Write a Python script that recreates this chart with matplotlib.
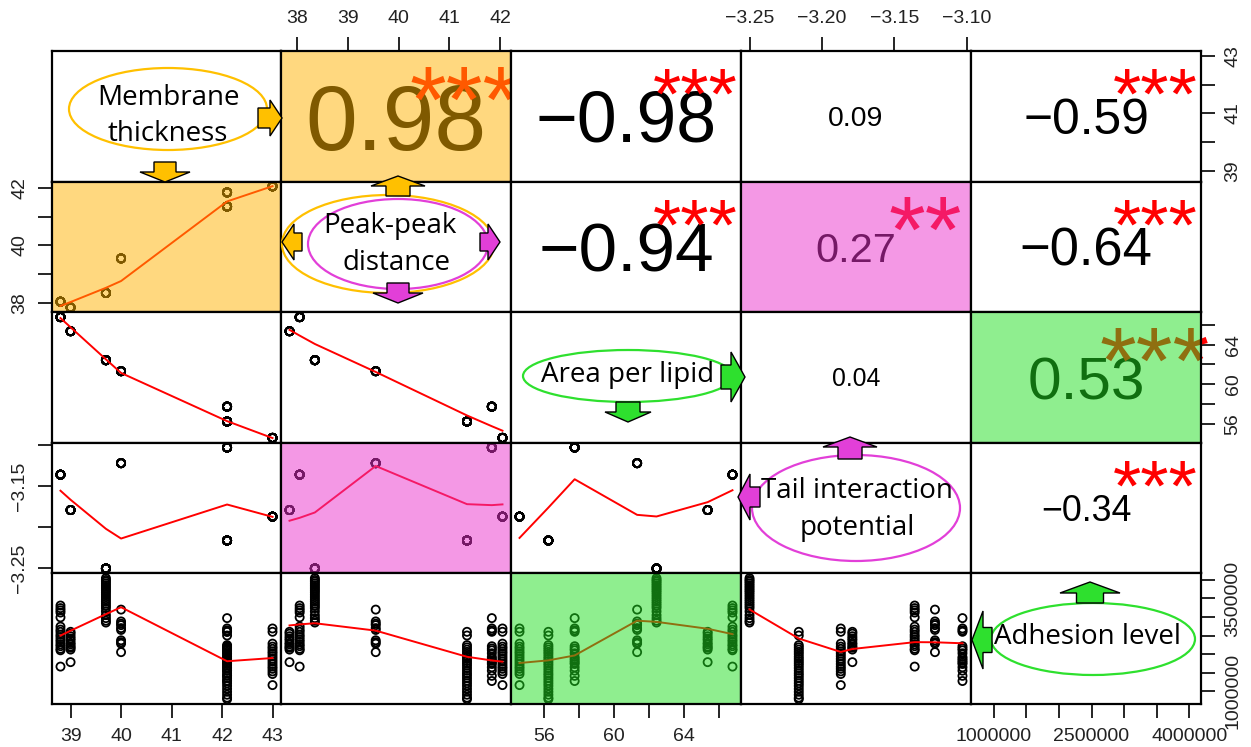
import numpy as np
import matplotlib
matplotlib.use('Agg')
import matplotlib.pyplot as plt
import matplotlib.patches as mpatches

plt.rcParams['font.family'] = 'Liberation Sans'

W, H = 1251, 747

# per-system values (7 lipid systems, A..G)
thickness = [38.8, 39.0, 39.7, 40.0, 42.1, 42.1, 43.0]
peak_dist = [38.05, 37.85, 38.35, 39.55, 41.84, 41.35, 42.05]
area_lipid = [66.77, 65.35, 62.43, 61.32, 57.75, 56.25, 54.60]
tail_pot = [-3.136, -3.179, -3.250, -3.122, -3.103, -3.216, -3.187]

# adhesion level replicates per system (x 1e6)
adh_A = [3.31, 3.24, 3.18, 3.12, 2.99, 2.74, 2.66, 2.60, 2.52, 2.46, 2.39, 2.33, 2.26, 2.21, 2.14, 2.10, 1.66]
adh_B = [2.60, 2.55, 2.48, 2.42, 2.37, 2.30, 2.26, 2.20, 2.17, 2.12, 1.78]
adh_C = [4.05, 4.00, 3.96, 3.91, 3.86, 3.81, 3.76, 3.71, 3.66, 3.60, 3.54, 3.48, 3.42, 3.36, 3.30, 3.24,
         3.15, 3.05, 2.97, 2.90, 2.85]
adh_D = [3.20, 2.88, 2.82, 2.78, 2.70, 2.65, 2.37, 2.32, 2.28, 2.05]
adh_E = [2.97, 2.69, 2.64, 2.60, 2.21, 2.15, 2.10, 2.02, 1.92, 1.87, 1.82, 1.77, 1.73, 1.64, 1.55, 1.41, 1.27]
adh_F = [2.60, 2.50, 2.24, 2.18, 2.12, 2.06, 2.00, 1.93, 1.87, 1.81, 1.75, 1.69, 1.62, 1.55, 1.48, 1.42,
         1.35, 1.28, 1.21, 1.14, 1.06, 0.98, 0.90, 0.82, 0.78]
adh_G = [2.69, 2.60, 2.28, 2.20, 2.14, 2.07, 2.01, 1.94, 1.87, 1.80, 1.73, 1.66, 1.60, 1.53, 1.46, 1.16]

# upper panels: (row, col, correlation, significance)
cor_cells = [(0, 1, '0.98', '***'), (0, 2, '\u22120.98', '***'), (0, 3, '0.09', ''),
             (0, 4, '\u22120.59', '***'), (1, 2, '\u22120.94', '***'), (1, 3, '0.27', '**'),
             (1, 4, '\u22120.64', '***'), (2, 3, '0.04', ''), (2, 4, '0.53', '***'),
             (3, 4, '\u22120.34', '***')]

# highlighted panels
orange_cells = [(0, 1), (1, 0)]
pink_cells = [(1, 3), (3, 1)]
green_cells = [(2, 4), (4, 2)]


def lowess(x, y, f=2/3, nsteps=3):
    # port of R's clowess
    o = np.argsort(x, kind='stable')
    X = np.concatenate([[0.0], np.asarray(x, float)[o]])
    Y = np.concatenate([[0.0], np.asarray(y, float)[o]])
    n = len(X) - 1
    delta = 0.01 * (X[n] - X[1])
    rng = X[n] - X[1]
    ys = np.zeros(n + 1)
    rw = np.ones(n + 1)
    w = np.zeros(n + 1)
    ns = max(2, min(n, int(f * n + 1e-7)))
    it = 1
    while it <= nsteps + 1:
        nleft, nright, last, i = 1, ns, 0, 1
        while True:
            if nright < n:
                d1 = X[i] - X[nleft]
                d2 = X[nright + 1] - X[i]
                if d1 > d2:
                    nleft += 1
                    nright += 1
                    continue
            xv = X[i]
            h = max(xv - X[nleft], X[nright] - xv)
            h9, h1 = 0.999 * h, 0.001 * h
            a = 0.0
            j = nleft
            while j <= n:
                w[j] = 0.0
                r = abs(X[j] - xv)
                if r <= h9:
                    w[j] = 1.0 if r <= h1 else (1 - (r / h) ** 3) ** 3
                    if it > 1:
                        w[j] *= rw[j]
                    a += w[j]
                elif X[j] > xv:
                    break
                j += 1
            nrt = j - 1
            if a <= 0:
                ys[i] = Y[i]
            else:
                ww = w[nleft:nrt + 1] / a
                xx = X[nleft:nrt + 1]
                if h > 0:
                    am = (ww * xx).sum()
                    b = xv - am
                    c = (ww * (xx - am) ** 2).sum()
                    if np.sqrt(c) > 0.001 * rng:
                        ww = ww * (b / c * (xx - am) + 1)
                ys[i] = (ww * Y[nleft:nrt + 1]).sum()
            if last < i - 1:
                denom = X[i] - X[last]
                for k in range(last + 1, i):
                    al = (X[k] - X[last]) / denom
                    ys[k] = al * ys[i] + (1 - al) * ys[last]
            last = i
            cut = X[last] + delta
            i = last + 1
            while i <= n:
                if X[i] > cut:
                    break
                if X[i] == X[last]:
                    ys[i] = ys[last]
                    last = i
                i += 1
            i = max(last + 1, i - 1)
            if last >= n:
                break
        res = Y[1:] - ys[1:]
        sc = np.abs(res).mean()
        if it > nsteps:
            break
        r = np.abs(res)
        cmad = 6 * np.median(r)
        if cmad < 1e-7 * sc:
            break
        rw[1:] = np.where(r <= 0.001 * cmad, 1.0,
                          np.where(r <= 0.999 * cmad, (1 - (r / cmad) ** 2) ** 2, 0.0))
        it += 1
    return X[1:], ys[1:]


adh_groups = [adh_A, adh_B, adh_C, adh_D, adh_E, adh_F, adh_G]
reps = [len(g) for g in adh_groups]
data = [np.repeat(thickness, reps), np.repeat(peak_dist, reps), np.repeat(area_lipid, reps),
        np.repeat(tail_pot, reps), np.concatenate(adh_groups) * 1e6]

lims = []
for v in data:
    lo, hi = v.min(), v.max()
    pad = 0.04 * (hi - lo)
    lims.append((lo - pad, hi + pad))

cols = [52, 281, 511, 741, 971, 1201]
rows = [51, 181.5, 312.3, 442.7, 573.3, 704]

fig = plt.figure(figsize=(W / 100, H / 100), dpi=100)
renderer = fig.canvas.get_renderer()


def fx(px):
    return px / W


def fy(py):
    return 1 - py / H


def str_width(s, size):
    t = fig.text(0, 0, s, fontsize=size)
    wd = t.get_window_extent(renderer=renderer).width
    t.remove()
    return wd


axes = {}
for i in range(5):
    for j in range(5):
        ax = fig.add_axes([fx(cols[j]), fy(rows[i + 1]), (cols[j + 1] - cols[j]) / W,
                           (rows[i + 1] - rows[i]) / H])
        ax.set_xlim(lims[j])
        ax.set_ylim(lims[i])
        ax.set_xticks([])
        ax.set_yticks([])
        for s in ax.spines.values():
            s.set_linewidth(1.6)
            s.set_zorder(6)
        axes[i, j] = ax
        if i > j:
            ax.scatter(data[j], data[i], s=34, facecolors='none', edgecolors='black',
                       linewidths=1.3, zorder=2)
            lx, ly = lowess(data[j], data[i])
            ax.plot(lx, ly, color='red', lw=1.4, zorder=3)

# correlation texts
for i, j, txt, st in cor_cells:
    ax = axes[i, j]
    pw = cols[j + 1] - cols[j]
    base = 100 * 0.8 * pw / str_width(txt, 100)
    r = float(txt.replace('\u2212', '-'))
    fs = base * (abs(r) + 0.3) / 1.3
    ax.annotate(txt, xy=(0.5, 0.5), xycoords='axes fraction', xytext=(0, -0.358 * fs),
                textcoords='offset points', ha='center', va='baseline', fontsize=fs, zorder=3)
    if st:
        ax.annotate(st, xy=(0.8, 0.8), xycoords='axes fraction', xytext=(0, -0.575 * base),
                    textcoords='offset points', ha='center', va='baseline', fontsize=base,
                    color='red', zorder=3, annotation_clip=False)

# highlight overlays
for cells, c in [(orange_cells, (1.0, 0.70, 0.0)), (pink_cells, (0.92, 0.20, 0.80)),
                 (green_cells, (0.13, 0.87, 0.13))]:
    for i, j in cells:
        axes[i, j].add_patch(mpatches.Rectangle((0, 0), 1, 1, transform=axes[i, j].transAxes,
                                                facecolor=c, alpha=0.5, lw=0, zorder=5))

# axes ticks
tick_kw = dict(direction='out', length=10, width=1.2, labelsize=14, pad=7, labelcolor='#222222')


def set_x(ax, pos, ticks, labels):
    ax.set_xticks(ticks)
    ax.set_xticklabels(labels)
    ax.xaxis.set_ticks_position(pos)
    ax.tick_params(axis='x', **tick_kw)


def set_y(ax, pos, ticks, labels):
    ax.set_yticks(ticks)
    ax.set_yticklabels(labels, rotation=90, va='center')
    ax.yaxis.set_ticks_position(pos)
    ax.tick_params(axis='y', **tick_kw)


mt_ticks = [39, 40, 41, 42, 43]
pp_ticks = [38, 39, 40, 41, 42]
apl_ticks = [56, 58, 60, 62, 64, 66]
tip_ticks = [-3.25, -3.20, -3.15, -3.10]
adh_ticks = [1e6, 1.5e6, 2e6, 2.5e6, 3e6, 3.5e6, 4e6]

set_x(axes[4, 0], 'bottom', mt_ticks, ['39', '40', '41', '42', '43'])
set_x(axes[0, 1], 'top', pp_ticks, ['38', '39', '40', '41', '42'])
set_x(axes[4, 2], 'bottom', apl_ticks, ['56', '', '60', '', '64', ''])
set_x(axes[0, 3], 'top', tip_ticks, ['\u22123.25', '\u22123.20', '\u22123.15', '\u22123.10'])
set_x(axes[4, 4], 'bottom', adh_ticks, ['1000000', '', '', '2500000', '', '', '4000000'])
set_y(axes[0, 4], 'right', mt_ticks, ['39', '', '41', '', '43'])
set_y(axes[1, 0], 'left', pp_ticks, ['38', '', '40', '', '42'])
set_y(axes[2, 4], 'right', apl_ticks, ['56', '', '60', '', '64', ''])
set_y(axes[3, 0], 'left', tip_ticks, ['\u22123.25', '', '\u22123.15', ''])
set_y(axes[4, 4], 'right', adh_ticks, ['1000000', '', '', '', '', '3500000', ''])

# diagonal labels
ORANGE = '#FFC000'
MAGENTA = '#E23FD8'
GREEN = '#2EE02E'
label_font = 'Open Sans'


def ellipse(cx, cy, w, h, color):
    fig.add_artist(mpatches.Ellipse((fx(cx), fy(cy)), w / W, h / H, transform=fig.transFigure,
                                    fill=False, edgecolor=color, linewidth=1.6, zorder=10))


def block_arrow(tx, ty, d, L, hl, sw, hw, color):
    dx, dy = {'right': (1, 0), 'left': (-1, 0), 'up': (0, -1), 'down': (0, 1)}[d]
    qx, qy = -dy, dx
    pts = [(-L, sw / 2), (-hl, sw / 2), (-hl, hw / 2), (0, 0), (-hl, -hw / 2), (-hl, -sw / 2),
           (-L, -sw / 2)]
    xy = [(fx(tx + s * dx + t * qx), fy(ty + s * dy + t * qy)) for s, t in pts]
    fig.add_artist(mpatches.Polygon(xy, closed=True, transform=fig.transFigure, facecolor=color,
                                    edgecolor='black', linewidth=1.0, zorder=11))


def label(cx, cy, s):
    fig.text(fx(cx), fy(cy), s, ha='center', va='center', fontsize=20, family=label_font,
             color='black', zorder=12)


# Membrane thickness
ellipse(168, 109, 198, 82, ORANGE)
label(168, 98, 'Membrane')
label(168, 134, 'thickness')
block_arrow(282, 118, 'right', 24, 12, 20, 36, ORANGE)
block_arrow(165, 182, 'down', 20, 10, 22, 50, ORANGE)

# Peak-peak distance
ellipse(388, 244, 212, 98, ORANGE)
ellipse(398, 244, 180, 90, MAGENTA)
label(390, 226, 'Peak-peak')
label(397, 263, 'distance')
block_arrow(398, 176, 'up', 20, 10, 24, 54, ORANGE)
block_arrow(282, 242, 'left', 20, 12, 18, 36, ORANGE)
block_arrow(500, 242, 'right', 20, 12, 18, 36, MAGENTA)
block_arrow(398, 303, 'down', 20, 10, 22, 50, MAGENTA)

# Area per lipid
ellipse(628, 376, 210, 52, GREEN)
label(628, 375, 'Area per lipid')
block_arrow(745, 377, 'right', 24, 14, 24, 50, GREEN)
block_arrow(628, 422, 'down', 20, 10, 24, 46, GREEN)

# Tail interaction potential
ellipse(856, 508, 208, 106, MAGENTA)
label(857, 491, 'Tail interaction')
label(857, 528, 'potential')
block_arrow(850, 437, 'up', 22, 10, 24, 54, MAGENTA)
block_arrow(738, 497, 'left', 22, 12, 20, 46, MAGENTA)

# Adhesion level
ellipse(1093, 639, 204, 72, GREEN)
label(1088, 637, 'Adhesion level')
block_arrow(1090, 582, 'up', 21, 11, 27, 60, GREEN)
block_arrow(972, 640, 'left', 20, 11, 25, 58, GREEN)

fig.savefig('out.png', dpi=100)
